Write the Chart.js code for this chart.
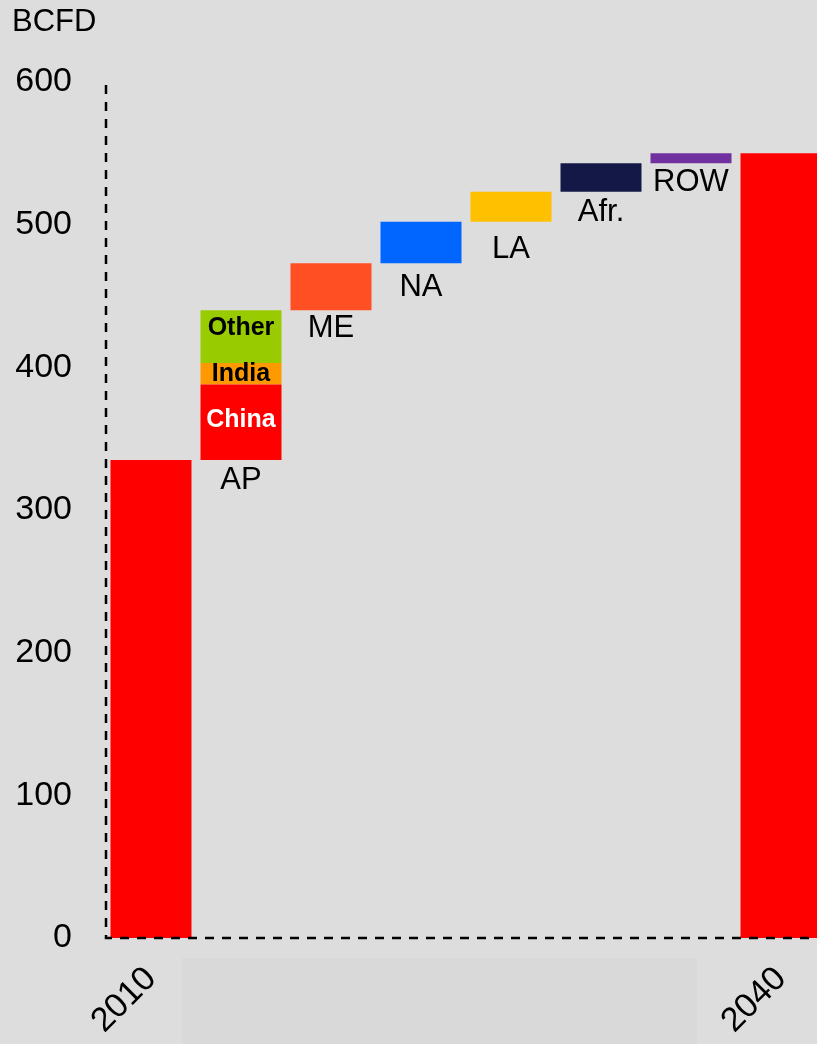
<!DOCTYPE html>
<html>
<head>
<meta charset="utf-8">
<script src="https://cdn.jsdelivr.net/npm/chart.js@4"></script>
<style>
  html, body { margin: 0; padding: 0; background: #dddddd; overflow: hidden; }
  canvas { display: block; }
</style>
</head>
<body>
<canvas id="gas-demand" width="826" height="1044"></canvas>
<script>
// Waterfall: gas demand 2010 -> 2040 by region (BCFD)
const categories = ['2010', 'AP', 'ME', 'NA', 'LA', 'Afr.', 'ROW', '2040'];
const tickLabels = ['2010', '', '', '', '', '', '', '2040'];
const barBase = [0, 335, 440, 473, 502, 523, 543, 0];
const barTop = [335, 440, 473, 502, 523, 543, 550, 550];
const barColors = ['#ff0000', '#ff0000', '#ff4f23', '#0066ff', '#ffc000', '#141846', '#7030a0', '#ff0000'];

// Asia-Pacific split
const apParts = ['China', 'India', 'Other'];
const apBase = [335, 388, 403];
const apTop = [388, 403, 440];
const apColors = ['#ff0000', '#ff9900', '#99cc00'];
const apTextColors = ['#ffffff', '#000000', '#000000'];

const yTicks = [0, 100, 200, 300, 400, 500, 600];

const AP = categories.indexOf('AP');
const FONT = "'Liberation Sans', Arial, sans-serif";

let datasets = [{
  label: 'Change',
  data: categories.map((c, i) => i === AP ? null : [barBase[i], barTop[i]]),
  backgroundColor: barColors,
  grouped: false,
  barPercentage: 0.9,
  categoryPercentage: 1
}];
apParts.forEach((p, k) => {
  datasets.push({
    label: p,
    data: categories.map((c, i) => i === AP ? [apBase[k], apTop[k]] : null),
    backgroundColor: apColors[k],
    grouped: false,
    barPercentage: 0.9,
    categoryPercentage: 1
  });
});

// gap (px) between a bar's bottom and its region name
const labelGap = [0, 20, 18, 24, 28, 21, 19, 0];

// extra drawing: shaded strip, dashed axes, unit, region + segment labels
const extras = {
  id: 'extras',
  beforeDraw(chart) {
    const ctx = chart.ctx;
    const area = chart.chartArea;
    ctx.save();
    ctx.fillStyle = '#d9d9d9';
    ctx.fillRect(182, area.bottom + 20, 697 - 182, chart.height - area.bottom - 20);
    ctx.restore();
  },
  afterDatasetsDraw(chart) {
    const ctx = chart.ctx;
    const area = chart.chartArea;
    const x = chart.scales.x;
    const y = chart.scales.y;
    ctx.save();

    // dashed axes
    ctx.strokeStyle = '#000';
    ctx.lineWidth = 2.5;
    ctx.setLineDash([9, 8]);
    ctx.beginPath();
    ctx.moveTo(area.left, area.top + 3);
    ctx.lineTo(area.left, area.bottom);
    ctx.lineTo(area.right, area.bottom);
    ctx.stroke();
    ctx.setLineDash([]);

    ctx.fillStyle = '#000';
    ctx.textAlign = 'left';
    ctx.textBaseline = 'alphabetic';
    ctx.font = '31px ' + FONT;
    ctx.fillText('BCFD', 12, 31);

    ctx.textAlign = 'center';
    ctx.textBaseline = 'middle';
    for (let i = 1; i < categories.length - 1; i++) {
      ctx.fillText(categories[i], x.getPixelForValue(i), y.getPixelForValue(barBase[i]) + labelGap[i]);
    }

    ctx.font = 'bold 25px ' + FONT;
    apParts.forEach((p, k) => {
      const top = y.getPixelForValue(apTop[k]);
      const bot = y.getPixelForValue(apBase[k]);
      let cy = (top + bot) / 2;
      if (p === 'Other') cy = top + 18;
      if (p === 'China') cy -= 2;
      ctx.fillStyle = apTextColors[k];
      ctx.fillText(p, x.getPixelForValue(AP), cy);
    });
    ctx.restore();
  }
};

let ctx = document.getElementById('gas-demand').getContext('2d');
let chart = new Chart(ctx, {
  type: 'bar',
  data: { labels: tickLabels, datasets: datasets },
  plugins: [extras],
  options: {
    responsive: false,
    animation: false,
    layout: { padding: { top: 82, left: 0, right: 0, bottom: 0 } },
    plugins: {
      legend: { display: false },
      tooltip: { enabled: false }
    },
    scales: {
      x: {
        grid: { display: false, drawTicks: false },
        border: { display: false },
        ticks: {
          autoSkip: false,
          maxRotation: 45,
          minRotation: 45,
          padding: 21,
          color: '#000',
          font: { family: FONT, size: 34 }
        },
        afterFit(scale) {
          scale.height = 106;
          scale.paddingLeft = 0;
          scale.paddingRight = 0;
        }
      },
      y: {
        min: 0,
        max: 600,
        afterBuildTicks(scale) { scale.ticks = yTicks.map(v => ({ value: v })); },
        grid: { display: false, drawTicks: false },
        border: { display: false },
        ticks: {
          padding: 34,
          color: '#000',
          font: { family: FONT, size: 34 }
        },
        afterFit(scale) { scale.width = 106; }
      }
    }
  }
});
</script>
</body>
</html>
